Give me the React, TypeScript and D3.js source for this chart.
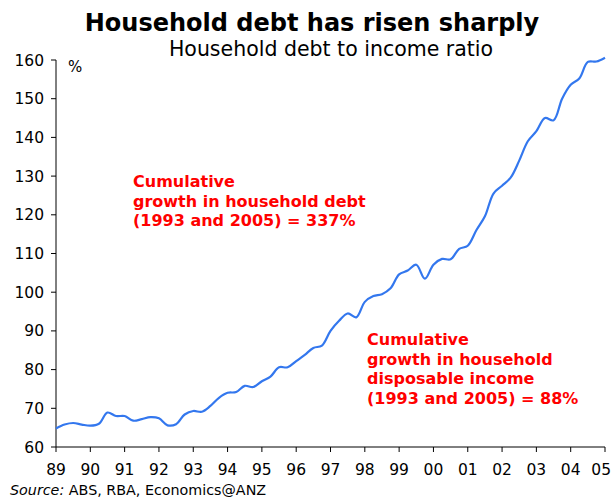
import React from "react";
import * as d3 from "d3";

const years: number[] = [89, 90, 91, 92, 93, 94, 95, 96, 97, 98, 99, 0, 1, 2, 3, 4, 5];
const yTicks: number[] = [60, 70, 80, 90, 100, 110, 120, 130, 140, 150, 160];
// quarterly household debt to income ratio, 1989Q1 .. 2005Q1
const ratio: number[] = [
  64.8, 65.8, 66.2, 65.8, 65.5, 66.0, 68.9, 68.0,
  68.0, 66.8, 67.2, 67.7, 67.4, 65.6, 65.9, 68.4,
  69.3, 69.1, 70.6, 72.7, 74.0, 74.2, 75.8, 75.5,
  77.0, 78.2, 80.6, 80.6, 82.2, 83.8, 85.6, 86.2,
  90.0, 92.6, 94.5, 93.5, 97.5, 99.0, 99.5, 101.0,
  104.6, 105.6, 107.1, 103.5, 107.1, 108.6, 108.5, 111.2,
  112.0, 116.0, 119.6, 125.5, 127.5, 129.6, 134.0, 139.0,
  141.6, 145.0, 144.4, 150.0, 153.6, 155.2, 159.5, 159.6,
  160.6,
];

const W = 613;
const H = 499;
const left = 56;
const right = 605;
const top = 60;
const bottom = 447;

export default function App() {
  const x = d3.scaleLinear().domain([1989, 2005]).range([left, right]);
  const y = d3.scaleLinear().domain([60, 160]).range([bottom, top]);
  const pts: [number, number][] = ratio.map((v, i) => [1989 + i / 4, v]);
  const line = d3
    .line<[number, number]>()
    .x((d) => x(d[0]))
    .y((d) => y(d[1]))
    .curve(d3.curveCatmullRom.alpha(0.5));
  const font = "Verdana, 'DejaVu Sans', sans-serif";
  return (
    <svg
      width={W}
      height={H}
      style={{ position: "absolute", left: 0, top: 0, background: "#fff" }}
      fontFamily={font}
    >
      <rect width={W} height={H} fill="#fff" />
      <text x={312} y={31} textAnchor="middle" fontSize={24} fontWeight="bold" fill="#000">
        Household debt has risen sharply
      </text>
      <text x={331} y={56} textAnchor="middle" fontSize={20.5} fill="#000">
        Household debt to income ratio
      </text>
      {/* y axis */}
      <line x1={left} x2={left} y1={top} y2={bottom} stroke="#000" strokeWidth={1} />
      {yTicks.map((t) => (
        <g key={t}>
          <line x1={left - 5} x2={left} y1={y(t)} y2={y(t)} stroke="#000" />
          <text x={44} y={y(t) + 5.5} textAnchor="end" fontSize={15.5} fill="#000">
            {t}
          </text>
        </g>
      ))}
      <text x={68} y={72} fontSize={15} fill="#000">%</text>
      {/* x axis */}
      <line x1={left} x2={right} y1={bottom} y2={bottom} stroke="#000" strokeWidth={1} />
      {years.map((yr, i) => {
        const last = i === years.length - 1;
        return (
          <g key={i}>
            <line x1={x(1989 + i)} x2={x(1989 + i)} y1={bottom} y2={bottom + 5} stroke="#000" />
            <text
              x={last ? 611 : x(1989 + i)}
              y={475}
              textAnchor={last ? "end" : "middle"}
              fontSize={15.5}
              fill="#000"
            >
              {String(yr).padStart(2, "0")}
            </text>
          </g>
        );
      })}
      <path d={line(pts) || ""} fill="none" stroke="#3377ee" strokeWidth={2.2} />
      <g fill="#ff0000" fontSize={16} fontWeight="bold">
        <text x={133} y={187}>Cumulative</text>
        <text x={133} y={207}>growth in household debt</text>
        <text x={133} y={226}>(1993 and 2005) = 337%</text>
        <text x={367} y={345}>Cumulative</text>
        <text x={367} y={365}>growth in household</text>
        <text x={367} y={384}>disposable income</text>
        <text x={367} y={404}>(1993 and 2005) = 88%</text>
      </g>
      <text x={10} y={495} fontSize={14.3} fill="#000">
        <tspan fontStyle="italic">Source:</tspan> ABS, RBA, Economics@ANZ
      </text>
    </svg>
  );
}
